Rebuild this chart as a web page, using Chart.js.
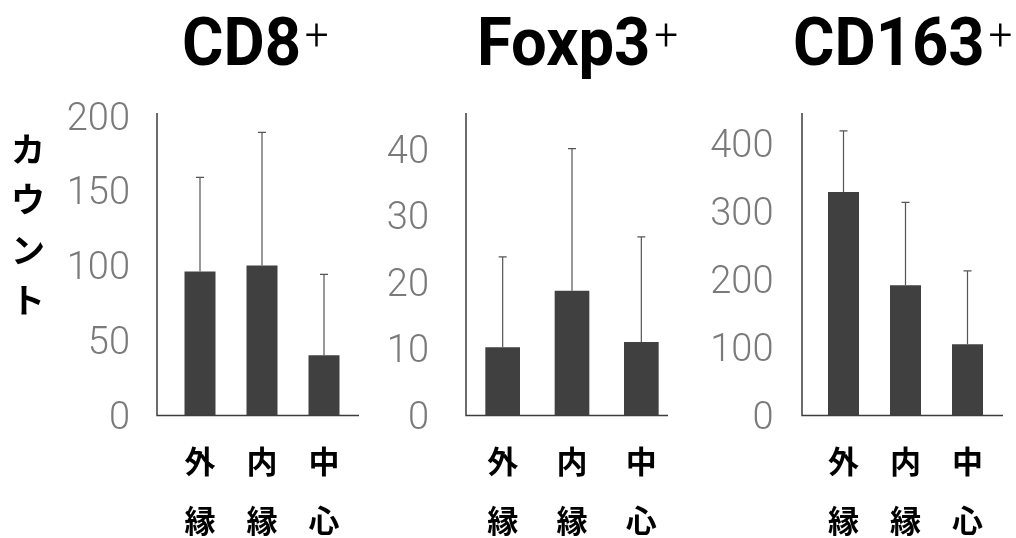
<!DOCTYPE html>
<html lang="ja">
<head>
<meta charset="utf-8">
<title>CD8+ / Foxp3+ / CD163+</title>
<script src="https://cdn.jsdelivr.net/npm/chart.js@4.4.1/dist/chart.umd.min.js"></script>
<style>
  html, body { margin: 0; padding: 0; background: #ffffff; }
  #wrap { position: relative; width: 1016px; height: 538px; overflow: hidden; }
  #wrap canvas { position: absolute; left: 0; top: 0; }
</style>
</head>
<body>
<div id="wrap">
  <canvas id="cd8" width="1016" height="538"></canvas>
  <canvas id="foxp3" width="1016" height="538"></canvas>
  <canvas id="cd163" width="1016" height="538"></canvas>
</div>
<script>
// Regions along the tumour: outer margin, inner margin, centre
const categories = [['外', '縁'], ['内', '縁'], ['中', '心']];
const yAxisTitle = ['カ', 'ウ', 'ン', 'ト'];

// CD8+ counts (mean and SD)
const cd8Mean = [96, 100, 40];
const cd8Sd = [63, 89, 54];
const cd8Ticks = [0, 50, 100, 150, 200];

// Foxp3+ counts (mean and SD)
const foxp3Mean = [10.2, 18.7, 11.0];
const foxp3Sd = [13.6, 21.4, 15.8];
const foxp3Ticks = [0, 10, 20, 30, 40];

// CD163+ counts (mean and SD)
const cd163Mean = [328, 191, 104];
const cd163Sd = [90, 122, 108];
const cd163Ticks = [0, 100, 200, 300, 400];

const BAR_COLOR = '#404040';
const AXIS_COLOR = '#3c3c3c';
const TICK_COLOR = '#7a7a7a';
const TITLE_FONT = '"Roboto", "Liberation Sans", sans-serif';
const CJK_FONT = '"Noto Sans CJK JP", "Noto Sans", sans-serif';
const Y_AXIS_WIDTH = 120;

// Upper SD whiskers drawn from each bar top
const errorBars = {
  id: 'errorBars',
  afterDatasetsDraw(chart, args, opts) {
    const { ctx } = chart;
    const y = chart.scales.y;
    const meta = chart.getDatasetMeta(0);
    ctx.save();
    ctx.strokeStyle = '#555555';
    ctx.lineWidth = 1.2;
    meta.data.forEach((bar, i) => {
      const mean = opts.mean[i];
      const top = y.getPixelForValue(mean + opts.sd[i]);
      const base = y.getPixelForValue(mean);
      ctx.beginPath();
      ctx.moveTo(bar.x, base);
      ctx.lineTo(bar.x, top);
      ctx.moveTo(bar.x - 4, top);
      ctx.lineTo(bar.x + 4, top);
      ctx.stroke();
    });
    ctx.restore();
  }
};

// Axis lines, panel title with superscript, optional vertical axis title
const panelDecor = {
  id: 'panelDecor',
  afterDraw(chart, args, opts) {
    const { ctx } = chart;
    const base = chart.scales.y.getPixelForValue(0) + 0.5;
    ctx.save();
    ctx.strokeStyle = AXIS_COLOR;
    ctx.lineWidth = 1.5;
    ctx.beginPath();
    ctx.moveTo(opts.axisX, opts.axisTop);
    ctx.lineTo(opts.axisX, base);
    ctx.lineTo(opts.axisEnd, base);
    ctx.stroke();

    // title: main text + small raised "+", slightly condensed
    ctx.fillStyle = '#000000';
    ctx.textBaseline = 'alphabetic';
    ctx.textAlign = 'left';
    ctx.save();
    ctx.translate(opts.titleX, 0);
    ctx.scale(0.96, 1);
    ctx.font = 'bold 66px ' + TITLE_FONT;
    ctx.fillText(opts.title, 0, 65);
    const w = ctx.measureText(opts.title).width;
    ctx.font = '300 44px ' + TITLE_FONT;
    ctx.fillText(opts.sup, w + 4, 50);
    ctx.restore();

    if (opts.vertical) {
      ctx.font = 'bold 34px ' + CJK_FONT;
      ctx.textAlign = 'center';
      ctx.textBaseline = 'middle';
      opts.vertical.forEach((ch, i) => ctx.fillText(ch, 28, 149 + i * 50.5));
    }
    ctx.restore();
  }
};

function makePanel(id, mean, sd, ticks, max, geo) {
  new Chart(document.getElementById(id), {
    type: 'bar',
    data: {
      labels: categories,
      datasets: [{
        data: mean,
        backgroundColor: BAR_COLOR,
        borderWidth: 0,
        barPercentage: 1,
        categoryPercentage: 0.5
      }]
    },
    options: {
      responsive: false,
      animation: false,
      devicePixelRatio: 1,
      events: [],
      layout: {
        padding: { left: geo.left - Y_AXIS_WIDTH, right: 1016 - geo.right, top: 116, bottom: 0 }
      },
      plugins: {
        legend: { display: false },
        title: { display: false },
        tooltip: { enabled: false },
        errorBars: { mean: mean, sd: sd },
        panelDecor: geo.decor
      },
      scales: {
        x: {
          type: 'category',
          offset: true,
          grid: { display: false, drawTicks: false },
          border: { display: false },
          ticks: {
            padding: 16.5,
            color: '#000000',
            maxRotation: 0,
            autoSkip: false,
            font: { family: CJK_FONT, size: 31, weight: 'bold', lineHeight: 1.9 }
          },
          afterFit(scale) { scale.height = 123; }
        },
        y: {
          min: 0,
          max: max,
          grid: { display: false, drawTicks: false },
          border: { display: false },
          ticks: {
            padding: 39,
            labelOffset: 4,
            color: TICK_COLOR,
            font: { family: '"Roboto", "Liberation Sans", sans-serif', size: 38, weight: '300' }
          },
          afterBuildTicks(scale) { scale.ticks = ticks.map(v => ({ value: v })); },
          afterFit(scale) { scale.width = Y_AXIS_WIDTH; }
        }
      }
    },
    plugins: [errorBars, panelDecor]
  });
}

makePanel('cd8', cd8Mean, cd8Sd, cd8Ticks, 200, {
  left: 169, right: 355,
  decor: { axisX: 157, axisTop: 113, axisEnd: 359, title: 'CD8', sup: '+', titleX: 182, vertical: yAxisTitle }
});
makePanel('foxp3', foxp3Mean, foxp3Sd, foxp3Ticks, 45, {
  left: 468, right: 676,
  decor: { axisX: 466, axisTop: 113, axisEnd: 668, title: 'Foxp3', sup: '+', titleX: 477 }
});
makePanel('cd163', cd163Mean, cd163Sd, cd163Ticks, 440, {
  left: 812.5, right: 998.5,
  decor: { axisX: 802, axisTop: 113, axisEnd: 1003, title: 'CD163', sup: '+', titleX: 793 }
});
</script>
</body>
</html>
